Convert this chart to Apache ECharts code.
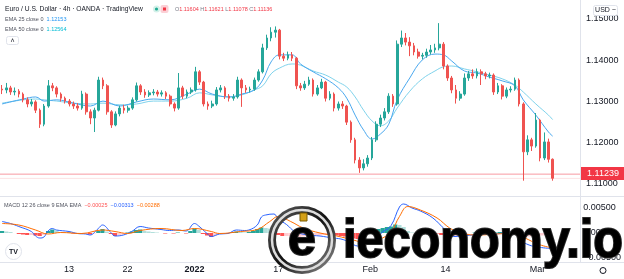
<!DOCTYPE html>
<html><head><meta charset="utf-8">
<script src="https://cdn.jsdelivr.net/npm/echarts@6/dist/echarts.min.js"></script>
<style>html,body{margin:0;padding:0;background:#fff}#c{width:624px;height:279px}</style>
</head><body><div id="c"></div><script>
const days = ['2021-12-01','2021-12-02','2021-12-03','2021-12-06','2021-12-07','2021-12-08','2021-12-09','2021-12-10','2021-12-13','2021-12-14','2021-12-15','2021-12-16','2021-12-17','2021-12-20','2021-12-21','2021-12-22','2021-12-23','2021-12-24','2021-12-27','2021-12-28','2021-12-29','2021-12-30','2021-12-31',
'2022-01-03','2022-01-04','2022-01-05','2022-01-06','2022-01-07','2022-01-10','2022-01-11','2022-01-12','2022-01-13','2022-01-14','2022-01-17','2022-01-18','2022-01-19','2022-01-20','2022-01-21','2022-01-24','2022-01-25','2022-01-26','2022-01-27','2022-01-28','2022-01-31',
'2022-02-01','2022-02-02','2022-02-03','2022-02-04','2022-02-07','2022-02-08','2022-02-09','2022-02-10','2022-02-11','2022-02-14','2022-02-15','2022-02-16','2022-02-17','2022-02-18','2022-02-21','2022-02-22','2022-02-23','2022-02-24','2022-02-25','2022-02-28',
'2022-03-01','2022-03-02'];
const padDays = ['2022-03-03','2022-03-04','2022-03-07'];
const halves = ['00:00','12:00'];
const tickLabels = {'2021-12-13':'13','2021-12-22':'22','2022-01-03':'2022','2022-01-17':'17','2022-02-01':'Feb','2022-02-14':'14','2022-03-01':'Mar'};

const opens = [1.1330,1.1328,1.1333,1.1323,1.1325,1.1318,1.1304,1.1294,1.1299,1.1279,
 1.1245,1.1289,1.1338,1.1333,1.1318,1.1308,1.1301,1.1294,1.1289,1.1284,
 1.1318,1.1275,1.1260,1.1279,1.1352,1.1338,1.1275,1.1243,1.1270,1.1284,
 1.1279,1.1284,1.1304,1.1338,1.1323,1.1316,1.1321,1.1323,1.1318,1.1321,
 1.1313,1.1294,1.1284,1.1333,1.1313,1.1323,1.1328,1.1372,1.1347,1.1294,
 1.1289,1.1294,1.1328,1.1333,1.1313,1.1308,1.1311,1.1352,1.1333,1.1328,
 1.1330,1.1352,1.1372,1.1430,1.1454,1.1468,1.1473,1.1410,1.1405,1.1413,
 1.1405,1.1338,1.1333,1.1342,1.1352,1.1318,1.1333,1.1347,1.1308,1.1318,
 1.1284,1.1294,1.1289,1.1250,1.1207,1.1158,1.1139,1.1149,1.1163,1.1207,
 1.1245,1.1260,1.1275,1.1313,1.1294,1.1439,1.1454,1.1444,1.1435,1.1420,
 1.1410,1.1412,1.1420,1.1425,1.1430,1.1439,1.1386,1.1357,1.1328,1.1308,
 1.1318,1.1357,1.1367,1.1362,1.1372,1.1367,1.1362,1.1364,1.1323,1.1338,
 1.1313,1.1328,1.1330,1.1352,1.1294,1.1178,1.1207,1.1192,1.1255,1.1163,
 1.1202,1.1160];
const closes = [1.1328,1.1333,1.1323,1.1325,1.1318,1.1304,1.1294,1.1299,1.1279,1.1245,
 1.1289,1.1338,1.1333,1.1318,1.1308,1.1301,1.1294,1.1289,1.1284,1.1318,
 1.1275,1.1260,1.1279,1.1352,1.1338,1.1275,1.1243,1.1270,1.1284,1.1279,
 1.1284,1.1304,1.1338,1.1323,1.1316,1.1321,1.1323,1.1318,1.1321,1.1313,
 1.1294,1.1284,1.1333,1.1313,1.1323,1.1328,1.1372,1.1347,1.1294,1.1289,
 1.1294,1.1328,1.1333,1.1313,1.1308,1.1311,1.1352,1.1333,1.1328,1.1330,
 1.1352,1.1372,1.1430,1.1454,1.1468,1.1473,1.1410,1.1405,1.1413,1.1405,
 1.1338,1.1333,1.1342,1.1352,1.1318,1.1333,1.1347,1.1308,1.1318,1.1284,
 1.1294,1.1289,1.1250,1.1207,1.1158,1.1139,1.1149,1.1163,1.1207,1.1245,
 1.1260,1.1275,1.1313,1.1294,1.1439,1.1454,1.1444,1.1435,1.1420,1.1410,
 1.1412,1.1420,1.1425,1.1430,1.1439,1.1386,1.1357,1.1328,1.1308,1.1318,
 1.1357,1.1367,1.1362,1.1372,1.1367,1.1362,1.1364,1.1323,1.1338,1.1313,
 1.1328,1.1330,1.1352,1.1294,1.1178,1.1207,1.1192,1.1255,1.1163,1.1202,
 1.1160,1.1114];
const highs = [1.1340,1.1345,1.1338,1.1334,1.1330,1.1322,1.1310,1.1306,1.1303,1.1283,
 1.1294,1.1352,1.1345,1.1337,1.1322,1.1312,1.1306,1.1300,1.1296,1.1326,
 1.1322,1.1281,1.1285,1.1360,1.1358,1.1342,1.1279,1.1276,1.1290,1.1292,
 1.1290,1.1310,1.1346,1.1342,1.1330,1.1327,1.1330,1.1328,1.1327,1.1325,
 1.1317,1.1298,1.1369,1.1338,1.1329,1.1334,1.1384,1.1376,1.1350,1.1300,
 1.1302,1.1335,1.1340,1.1337,1.1318,1.1318,1.1360,1.1356,1.1340,1.1336,
 1.1358,1.1378,1.1440,1.1462,1.1480,1.1482,1.1476,1.1418,1.1421,1.1420,
 1.1408,1.1345,1.1350,1.1360,1.1356,1.1340,1.1355,1.1350,1.1325,1.1322,
 1.1300,1.1301,1.1292,1.1254,1.1212,1.1165,1.1160,1.1170,1.1214,1.1252,
 1.1268,1.1284,1.1320,1.1318,1.1448,1.1472,1.1466,1.1456,1.1442,1.1428,
 1.1418,1.1428,1.1437,1.1440,1.1490,1.1444,1.1390,1.1362,1.1340,1.1325,
 1.1368,1.1374,1.1378,1.1380,1.1378,1.1372,1.1370,1.1368,1.1345,1.1342,
 1.1334,1.1337,1.1358,1.1356,1.1298,1.1218,1.1212,1.1272,1.1258,1.1225,
 1.1210,1.1162];
const lows = [1.1318,1.1320,1.1316,1.1315,1.1310,1.1298,1.1286,1.1288,1.1272,1.1236,
 1.1240,1.1285,1.1325,1.1310,1.1300,1.1295,1.1288,1.1282,1.1278,1.1280,
 1.1268,1.1245,1.1226,1.1276,1.1330,1.1268,1.1236,1.1240,1.1264,1.1271,
 1.1273,1.1280,1.1300,1.1316,1.1309,1.1311,1.1315,1.1312,1.1312,1.1306,
 1.1288,1.1276,1.1280,1.1306,1.1308,1.1318,1.1324,1.1340,1.1288,1.1280,
 1.1284,1.1290,1.1322,1.1306,1.1300,1.1302,1.1307,1.1287,1.1321,1.1322,
 1.1326,1.1348,1.1368,1.1425,1.1446,1.1455,1.1402,1.1398,1.1400,1.1398,
 1.1330,1.1326,1.1328,1.1338,1.1312,1.1314,1.1330,1.1300,1.1303,1.1276,
 1.1278,1.1282,1.1243,1.1200,1.1150,1.1127,1.1133,1.1142,1.1158,1.1202,
 1.1238,1.1254,1.1270,1.1287,1.1290,1.1432,1.1436,1.1410,1.1412,1.1404,
 1.1402,1.1406,1.1414,1.1418,1.1424,1.1378,1.1350,1.1320,1.1295,1.1302,
 1.1314,1.1350,1.1355,1.1356,1.1340,1.1354,1.1356,1.1316,1.1318,1.1305,
 1.1308,1.1322,1.1326,1.1288,1.1108,1.1170,1.1180,1.1188,1.1155,1.1158,
 1.1152,1.1108];

const emaIdx = [0,5,8,10,13,17,21,24,28,32,36,40,44,47,50,54,57,60,62,64,66,69,71,74,77,80,82,84,86,88,90,92,94,97,100,103,105,107,110,113,116,119,122,124,127,130,131];
const ema25 = [1.1294,1.1306,1.1311,1.1301,1.1304,1.1296,1.1289,1.1301,1.1289,1.1299,1.1306,1.1304,1.1318,1.1330,1.1318,1.1311,1.1318,1.1328,1.1352,1.1396,1.1413,1.1413,1.1391,1.1372,1.1355,1.1333,1.1308,1.1267,1.1231,1.1209,1.1221,1.1245,1.1304,1.1357,1.1401,1.1415,1.1413,1.1398,1.1374,1.1369,1.1359,1.1350,1.1338,1.1304,1.1267,1.1226,1.1216];
const ema50 = [1.1296,1.1304,1.1306,1.1304,1.1301,1.1296,1.1294,1.1296,1.1292,1.1294,1.1301,1.1301,1.1308,1.1321,1.1316,1.1311,1.1316,1.1328,1.1338,1.1367,1.1381,1.1391,1.1388,1.1374,1.1364,1.1347,1.1335,1.1311,1.1279,1.1253,1.1241,1.1253,1.1284,1.1325,1.1355,1.1374,1.1384,1.1386,1.1379,1.1372,1.1364,1.1355,1.1340,1.1323,1.1294,1.1267,1.1256];

const macdIdx = [0,2,4,7,8,9,10,11,12,13,16,18,20,21,23,24,26,27,29,31,33,35,38,40,42,44,46,47,49,50,52,54,56,58,59,61,62,63,65,66,68,70,73,76,79,81,83,85,87,89,91,93,95,96,98,100,103,106,108,111,114,118,122,124,126,128,131];
const macdLine = [0.0023,0.0019,0.0013,0.0003,-0.0006,-0.0010,-0.0008,0.0004,0.0009,0.0006,0.0003,-0.0001,-0.0002,-0.0004,0.0009,0.0016,0.0001,-0.0006,-0.0004,0.0003,0.0013,0.0010,0.0007,0.0005,0.0006,0.0004,0.0019,0.0014,-0.0001,-0.0007,-0.0002,-0.0001,0.0006,0.0005,0.0006,0.0016,0.0032,0.0036,0.0038,0.0028,0.0017,0.0003,-0.0004,-0.0006,-0.0010,-0.0012,-0.0018,-0.0026,-0.0022,-0.0012,0.0002,0.0015,0.0052,0.0058,0.0050,0.0044,0.0030,0.0006,-0.0007,-0.0005,-0.0003,-0.0002,0.0002,-0.0015,-0.0024,-0.0028,-0.0031];
const sigIdx = [0,4,8,11,14,19,24,27,30,33,38,43,46,50,52,57,61,64,66,69,72,76,80,84,87,90,93,95,97,100,104,107,110,114,118,122,125,128,131];
const signalLine = [0.0019,0.0016,0.0006,-0.0002,0.0001,-0.0001,0.0006,0.0003,-0.0001,0.0005,0.0009,0.0005,0.0009,0.0003,-0.0001,0.0003,0.0007,0.0023,0.0033,0.0023,0.0010,0.0000,-0.0006,-0.0014,-0.0020,-0.0014,0.0003,0.0033,0.0053,0.0046,0.0030,0.0010,-0.0001,-0.0004,-0.0002,-0.0001,-0.0010,-0.0022,-0.0029];
const hist = [0.0004,0.0003,0.0002,0.0000,-0.0002,-0.0003,-0.0004,-0.0004,-0.0005,-0.0006,
 -0.0004,0.0004,0.0007,0.0005,0.0002,0.0001,0.0001,-0.0001,-0.0001,-0.0002,
 -0.0002,-0.0003,-0.0001,0.0004,0.0008,0.0003,-0.0002,-0.0006,-0.0004,-0.0003,
 0.0001,0.0003,0.0006,0.0007,0.0004,0.0003,0.0002,0.0001,0.0000,-0.0001,
 0.0000,-0.0001,0.0001,0.0000,-0.0001,0.0004,0.0009,0.0006,-0.0002,-0.0005,
 -0.0008,-0.0005,-0.0002,-0.0001,0.0000,0.0002,0.0003,0.0002,0.0001,0.0002,
 0.0004,0.0008,0.0011,0.0010,0.0009,0.0006,-0.0004,-0.0006,-0.0006,-0.0006,
 -0.0008,-0.0008,-0.0007,-0.0006,-0.0006,-0.0005,-0.0005,-0.0004,-0.0004,-0.0004,
 -0.0005,-0.0006,-0.0007,-0.0008,-0.0011,-0.0012,-0.0008,-0.0003,0.0002,0.0005,
 0.0008,0.0010,0.0012,0.0013,0.0017,0.0016,0.0012,0.0004,0.0001,0.0000,
 -0.0002,-0.0002,-0.0001,0.0000,-0.0001,-0.0004,-0.0006,-0.0007,-0.0007,-0.0006,
 -0.0003,-0.0001,0.0000,0.0001,0.0002,0.0002,0.0001,0.0000,0.0001,0.0002,
 0.0002,0.0003,0.0003,-0.0003,-0.0006,-0.0008,-0.0007,-0.0006,-0.0006,-0.0005,
 -0.0004,-0.0003];

const priceLines = [1.11239, 1.11136];
const lastBar = {o:'1.11604', h:'1.11621', l:'1.11078', c:'1.11136'};
const legendVals = {ema25:'1.12153', ema50:'1.12564', hist:'\u22120.00025', macd:'\u22120.00313', signal:'\u22120.00288'};
const lastPriceLabel = '1.11239';

const categories = days.concat(padDays).flatMap(d => halves.map(h => d + ' ' + h));
const candleData = closes.map((c, i) => [opens[i], c, lows[i], highs[i]]);
const FONT = '"Liberation Sans", Arial, sans-serif';
const UP = '#26a69a', DOWN = '#ef5350';
const NSLOT = categories.length;

const chart = echarts.init(document.getElementById('c'), null, {renderer:'canvas'});
const catAxisBase = {type:'category', data:categories, boundaryGap:true, axisLine:{show:false}, axisTick:{show:false}, splitLine:{show:false}};
const valX = {type:'value', min:-0.5, max:NSLOT-0.5, show:false};
const hLine = (p) => [[-0.5, p], [NSLOT-0.5, p]];

chart.setOption({
  animation:false,
  backgroundColor:'#ffffff',
  grid:[
    {left:0, right:44, top:19, height:165},
    {left:0, right:44, top:208, height:50}
  ],
  xAxis:[
    Object.assign({gridIndex:0, axisLabel:{show:false}}, catAxisBase),
    Object.assign({gridIndex:0}, valX),
    Object.assign({gridIndex:1, axisLabel:{
      show:true, margin:7, color:'#131722', fontSize:9, fontFamily:FONT,
      interval:(i, v) => v.endsWith('00:00') && tickLabels[v.slice(0,10)] !== undefined,
      formatter:(v) => { const t = tickLabels[v.slice(0,10)]; return t === '2022' ? '{b|2022}' : t; },
      rich:{b:{fontWeight:'bold', fontSize:9, fontFamily:FONT, color:'#131722'}}
    }}, catAxisBase),
    Object.assign({gridIndex:1}, valX)
  ],
  yAxis:[
    {gridIndex:0, type:'value', position:'right', min:1.11, max:1.15, interval:0.01,
     axisLine:{show:false}, axisTick:{show:false}, splitLine:{show:false},
     axisLabel:{margin:6, color:'#131722', fontSize:9, fontFamily:FONT, formatter:v => v.toFixed(5)}},
    {gridIndex:1, type:'value', position:'right', min:-0.005, max:0.005, interval:0.005,
     axisLine:{show:false}, axisTick:{show:false}, splitLine:{show:false},
     axisLabel:{margin:6, color:'#131722', fontSize:9, fontFamily:FONT, formatter:v => (v<0?'\u2212':'') + Math.abs(v).toFixed(5)}}
  ],
  series:[
    {type:'line', xAxisIndex:1, yAxisIndex:0, data:hLine(priceLines[1]), symbol:'none', silent:true,
     lineStyle:{color:'#f23645', opacity:0.15, width:1}, z:1},
    {type:'line', xAxisIndex:1, yAxisIndex:0, data:hLine(priceLines[0]), symbol:'none', silent:true,
     lineStyle:{color:'#f23645', opacity:0.5, width:1}, z:1},
    {type:'line', xAxisIndex:1, yAxisIndex:0, data:emaIdx.map((x,i)=>[x, ema50[i]]), smooth:0.4, symbol:'none',
     lineStyle:{color:'#7fd3ec', width:1}, z:2},
    {type:'line', xAxisIndex:1, yAxisIndex:0, data:emaIdx.map((x,i)=>[x, ema25[i]]), smooth:0.4, symbol:'none',
     lineStyle:{color:'#49a8ef', width:1}, z:2},
    {type:'candlestick', xAxisIndex:0, yAxisIndex:0, data:candleData, barWidth:2.2, z:3,
     itemStyle:{color:UP, color0:DOWN, borderColor:UP, borderColor0:DOWN, borderWidth:1}},
    {type:'bar', xAxisIndex:2, yAxisIndex:1, data:hist, barWidth:'100%', barGap:'0%',
     itemStyle:{color:(p) => { const v = hist[p.dataIndex], pv = p.dataIndex>0 ? hist[p.dataIndex-1] : 0;
        return v >= 0 ? (v >= pv ? '#26a69a' : '#b2dfdb') : (v < pv ? '#ff5252' : '#ffcdd2'); }}},
    {type:'line', xAxisIndex:3, yAxisIndex:1, data:macdIdx.map((x,i)=>[x, macdLine[i]]), smooth:0.4, symbol:'none', clip:false,
     lineStyle:{color:'#2962ff', width:1}},
    {type:'line', xAxisIndex:3, yAxisIndex:1, data:sigIdx.map((x,i)=>[x, signalLine[i]]), smooth:0.4, symbol:'none', clip:false,
     lineStyle:{color:'#ff6d00', width:1}}
  ],
  graphic:[
    {type:'line', shape:{x1:580.5,y1:0,x2:580.5,y2:262}, style:{stroke:'#e0e3eb', lineWidth:1}, z:50},
    {type:'line', shape:{x1:0,y1:196.5,x2:624,y2:196.5}, style:{stroke:'#e0e3eb', lineWidth:1}, z:50},
    {type:'line', shape:{x1:0,y1:262.5,x2:624,y2:262.5}, style:{stroke:'#e0e3eb', lineWidth:1}, z:50},
    {type:'text', x:5, y:9, z:60, style:{text:'Euro / U.S. Dollar \u00b7 4h \u00b7 OANDA \u00b7 TradingView', fontSize:6.7, fontFamily:FONT, fill:'#131722', textVerticalAlign:'middle'}},
    {type:'circle', shape:{cx:156.5, cy:9, r:3.5}, style:{fill:'#d4f1e9'}, z:60},
    {type:'circle', shape:{cx:156.5, cy:9, r:1.6}, style:{fill:'#22ab94'}, z:61},
    {type:'rect', shape:{x:160.5, y:5, width:8, height:8, r:2}, style:{fill:'#fbd0d6'}, z:60},
    {type:'rect', shape:{x:163, y:7.5, width:3, height:3}, style:{fill:'#f23645'}, z:61},
    {type:'text', x:175, y:9, z:60, style:{text:'{g|O}{r|'+lastBar.o+'} {g|H}{r|'+lastBar.h+'} {g|L}{r|'+lastBar.l+'} {g|C}{r|'+lastBar.c+'}',
      textVerticalAlign:'middle', fontSize:5.5, fontFamily:FONT,
      rich:{g:{fill:'#787b86', fontSize:5.5, fontFamily:FONT}, r:{fill:'#f23645', fontSize:5.5, fontFamily:FONT}}}},
    {type:'text', x:5, y:19, z:60, style:{text:'{g|EMA 25 close 0}  {v|'+legendVals.ema25+'}', textVerticalAlign:'middle', fontSize:5.5, fontFamily:FONT,
      rich:{g:{fill:'#50535e', fontSize:5.5, fontFamily:FONT}, v:{fill:'#2196f3', fontSize:5.5, fontFamily:FONT}}}},
    {type:'text', x:5, y:29, z:60, style:{text:'{g|EMA 50 close 0}  {v|'+legendVals.ema50+'}', textVerticalAlign:'middle', fontSize:5.5, fontFamily:FONT,
      rich:{g:{fill:'#50535e', fontSize:5.5, fontFamily:FONT}, v:{fill:'#00bcd4', fontSize:5.5, fontFamily:FONT}}}},
    {type:'rect', shape:{x:6.5, y:36.5, width:12, height:8, r:2}, style:{fill:'#ffffff', stroke:'#e0e3eb', lineWidth:1}, z:60},
    {type:'text', x:12.5, y:41, z:61, style:{text:'\u02c4', fontSize:7, fill:'#131722', textAlign:'center', textVerticalAlign:'middle', fontFamily:FONT}},
    {type:'text', x:4, y:205, z:60, style:{text:'{g|MACD 12 26 close 9 EMA EMA}  {h|'+legendVals.hist+'}  {m|'+legendVals.macd+'}  {s|'+legendVals.signal+'}',
      textVerticalAlign:'middle', fontSize:5.5, fontFamily:FONT,
      rich:{g:{fill:'#50535e', fontSize:5.5, fontFamily:FONT}, h:{fill:'#ff5252', fontSize:5.5, fontFamily:FONT}, m:{fill:'#2962ff', fontSize:5.5, fontFamily:FONT}, s:{fill:'#ff6d00', fontSize:5.5, fontFamily:FONT}}}},
    {type:'rect', shape:{x:593.5, y:5.5, width:24, height:10, r:2}, style:{fill:'#ffffff', stroke:'#e0e3eb', lineWidth:1}, z:60},
    {type:'text', x:605.5, y:10.5, z:61, style:{text:'USD \u2212', fontSize:7, fontFamily:FONT, fill:'#131722', textAlign:'center', textVerticalAlign:'middle'}},
    {type:'rect', shape:{x:581, y:167, width:43, height:13}, style:{fill:'#f23645'}, z:60},
    {type:'text', x:603, y:173.5, z:61, style:{text:lastPriceLabel, fontSize:9, fontFamily:FONT, fill:'#ffffff', textAlign:'center', textVerticalAlign:'middle'}},
    {type:'circle', shape:{cx:13.5, cy:251.5, r:8}, style:{fill:'#ffffff', stroke:'#e0e3eb', lineWidth:1}, z:60},
    {type:'text', x:13.5, y:252, z:61, style:{text:'TV', fontSize:7, fontWeight:'bold', fontFamily:FONT, fill:'#131722', textAlign:'center', textVerticalAlign:'middle'}},
    {type:'circle', shape:{cx:603, cy:270.5, r:3}, style:{fill:'none', stroke:'#131722', lineWidth:1}, z:60},
    {type:'circle', z:90, shape:{cx:302, cy:240, r:30}, style:{fill:'none', stroke:new echarts.graphic.LinearGradient(0,0,1,1,[{offset:0,color:'#666'},{offset:0.5,color:'#111'},{offset:1,color:'#999'}]), lineWidth:8}},
    {type:'circle', z:91, shape:{cx:302, cy:240, r:30}, style:{fill:'none', stroke:'#dcdcdc', lineWidth:2.5}},
    {type:'text', z:92, x:302, y:241, style:{text:'e', fontSize:50, fontWeight:'bold', fontFamily:FONT, textAlign:'center', textVerticalAlign:'middle',
      fill:new echarts.graphic.LinearGradient(0,0,0,1,[{offset:0,color:'#ffffff'},{offset:1,color:'#a8a8a8'}]), stroke:'#2a2a2a', lineWidth:2}},
    {type:'rect', z:93, shape:{x:300, y:213, width:7, height:8}, style:{fill:'#d4a017', stroke:'#7a5a00', lineWidth:1}},
    {type:'text', z:92, x:343, y:242, scaleX:0.9, style:{text:'ieconomy.io', fontSize:54, fontWeight:'bold', fontFamily:FONT, textVerticalAlign:'middle',
      fill:new echarts.graphic.LinearGradient(0,0,0,1,[{offset:0,color:'#ffffff'},{offset:0.6,color:'#e6e6e6'},{offset:1,color:'#9a9a9a'}]), stroke:'#2a2a2a', lineWidth:2}}
  ]
});
</script></body></html>
